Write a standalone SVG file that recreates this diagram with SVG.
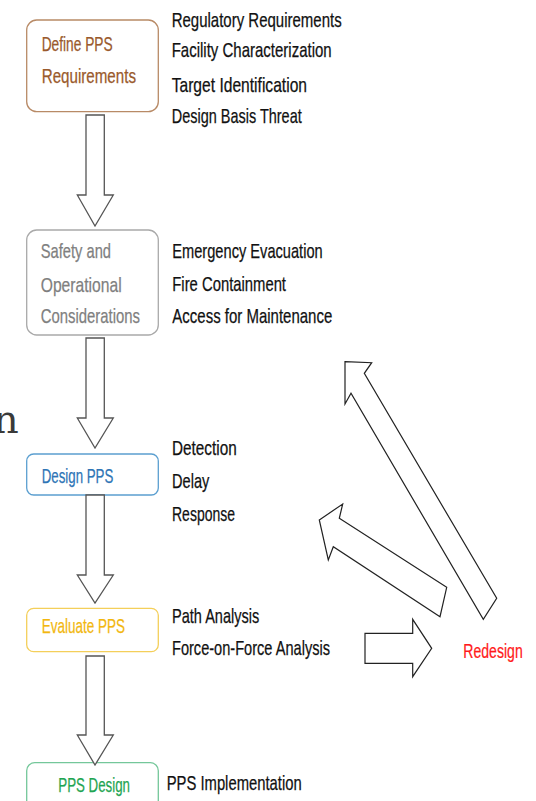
<svg xmlns="http://www.w3.org/2000/svg" width="536" height="801" viewBox="0 0 536 801">
  <style>
    text { font-family: "Liberation Sans", Arial, sans-serif; font-size: 21px; stroke-width: 0.25; }
    .note { fill: #111111; stroke: #111111; }
    .box { fill: #ffffff; stroke-width: 1.3; }
    .flow { fill: #ffffff; stroke: #555555; stroke-width: 1.3; stroke-linejoin: miter; }
    .back { fill: #ffffff; stroke: #222222; stroke-width: 1.2; stroke-linejoin: miter; }
  </style>
  <rect width="536" height="801" fill="#ffffff"/>

  <!-- stray title fragment at the left edge -->
  <text x="-7" y="433" style="font-family: 'DejaVu Serif', serif; font-size: 40px; stroke-width: 0;" fill="#3a3a3a">n</text>

  <g id="node-define">
    <rect class="box" x="26.7" y="20" width="131.6" height="91.7" rx="10" stroke="#b88a66"/>
    <text x="41.7" y="50.5" fill="#9a5a2c" stroke="#9a5a2c" textLength="71" lengthAdjust="spacingAndGlyphs">Define PPS</text>
    <text x="41.7" y="83.3" fill="#9a5a2c" stroke="#9a5a2c" textLength="94.3" lengthAdjust="spacingAndGlyphs">Requirements</text>
  </g>
  <g id="notes-define" class="note">
    <text x="171.7" y="26.5" textLength="170" lengthAdjust="spacingAndGlyphs">Regulatory Requirements</text>
    <text x="171.7" y="57.3" textLength="160" lengthAdjust="spacingAndGlyphs">Facility Characterization</text>
    <text x="171.7" y="91.5" textLength="135.3" lengthAdjust="spacingAndGlyphs">Target Identification</text>
    <text x="171.7" y="123" textLength="130" lengthAdjust="spacingAndGlyphs">Design Basis Threat</text>
  </g>

  <g id="node-safety">
    <rect class="box" x="26.7" y="230" width="131.6" height="105" rx="10" stroke="#a9a9a9"/>
    <text x="40.7" y="258.3" fill="#7f7f7f" stroke="#7f7f7f" textLength="70.3" lengthAdjust="spacingAndGlyphs">Safety and</text>
    <text x="40.7" y="291.7" fill="#7f7f7f" stroke="#7f7f7f" textLength="81" lengthAdjust="spacingAndGlyphs">Operational</text>
    <text x="40.7" y="323.3" fill="#7f7f7f" stroke="#7f7f7f" textLength="99.3" lengthAdjust="spacingAndGlyphs">Considerations</text>
  </g>
  <g id="notes-safety" class="note">
    <text x="172.3" y="258.3" textLength="150.4" lengthAdjust="spacingAndGlyphs">Emergency Evacuation</text>
    <text x="172.3" y="290.7" textLength="113.7" lengthAdjust="spacingAndGlyphs">Fire Containment</text>
    <text x="172.3" y="323.3" textLength="160" lengthAdjust="spacingAndGlyphs">Access for Maintenance</text>
  </g>

  <g id="node-design">
    <rect class="box" x="26.7" y="454" width="131.6" height="41" rx="7" stroke="#5b9fd0"/>
    <text x="41.7" y="482.7" fill="#2e75b6" stroke="#2e75b6" textLength="71.6" lengthAdjust="spacingAndGlyphs">Design PPS</text>
  </g>
  <g id="notes-design" class="note">
    <text x="172" y="455" textLength="64.7" lengthAdjust="spacingAndGlyphs">Detection</text>
    <text x="172" y="487.7" textLength="37.3" lengthAdjust="spacingAndGlyphs">Delay</text>
    <text x="172" y="520.7" textLength="63" lengthAdjust="spacingAndGlyphs">Response</text>
  </g>

  <g id="node-evaluate">
    <rect class="box" x="26.7" y="608.3" width="131.6" height="43.4" rx="7" stroke="#f4cf5a"/>
    <text x="41.7" y="633.3" fill="#f2b70f" stroke="#f2b70f" textLength="83.3" lengthAdjust="spacingAndGlyphs">Evaluate PPS</text>
  </g>
  <g id="notes-evaluate" class="note">
    <text x="172" y="623.3" textLength="87.3" lengthAdjust="spacingAndGlyphs">Path Analysis</text>
    <text x="172" y="655" textLength="158" lengthAdjust="spacingAndGlyphs">Force-on-Force Analysis</text>
  </g>

  <g id="node-final">
    <rect class="box" x="26.7" y="762.7" width="131.6" height="60" rx="8" stroke="#74c79a"/>
    <text x="58.3" y="791.7" fill="#1fa552" stroke="#1fa552" textLength="71.7" lengthAdjust="spacingAndGlyphs">PPS Design</text>
  </g>
  <g id="notes-final" class="note">
    <text x="166.7" y="790" textLength="135" lengthAdjust="spacingAndGlyphs">PPS Implementation</text>
  </g>

  <g id="node-redesign">
    <!-- horizontally condensed so the word stays inside the right edge -->
    <text transform="translate(463.3,658.3) scale(0.67,1)" x="0" y="0" fill="#ff1a1a" stroke="#ff1a1a">Redesign</text>
  </g>

  <g id="connectors">
    <polygon class="flow" points="86,115 104.3,115 104.3,195 113.3,195 95,226 77.3,195 86,195"/>
    <polygon class="flow" points="86,338 104.3,338 104.3,418 113.3,418 95,448 77.3,418 86,418"/>
    <polygon class="flow" points="86,495 104.3,495 104.3,575 113.3,575 95,603 77.3,575 86,575"/>
    <polygon class="flow" points="86,656 104.3,656 104.3,735 113.3,735 95,765 77.3,735 86,735"/>
    <polygon class="back" points="365,633.3 412.7,633.3 412.7,619.3 431.7,648.3 412.7,676.7 412.7,663.3 365,663.3"/>
    <polygon class="back" points="319.3,520 342.7,504 339.3,518.3 446.7,587.3 440,616.7 333.3,546.7 328.3,560"/>
    <polygon class="back" points="345,361.7 371.7,362.7 364.3,373.3 496.7,598.3 483.3,619.3 351,393.3 345,404"/>
  </g>
</svg>
